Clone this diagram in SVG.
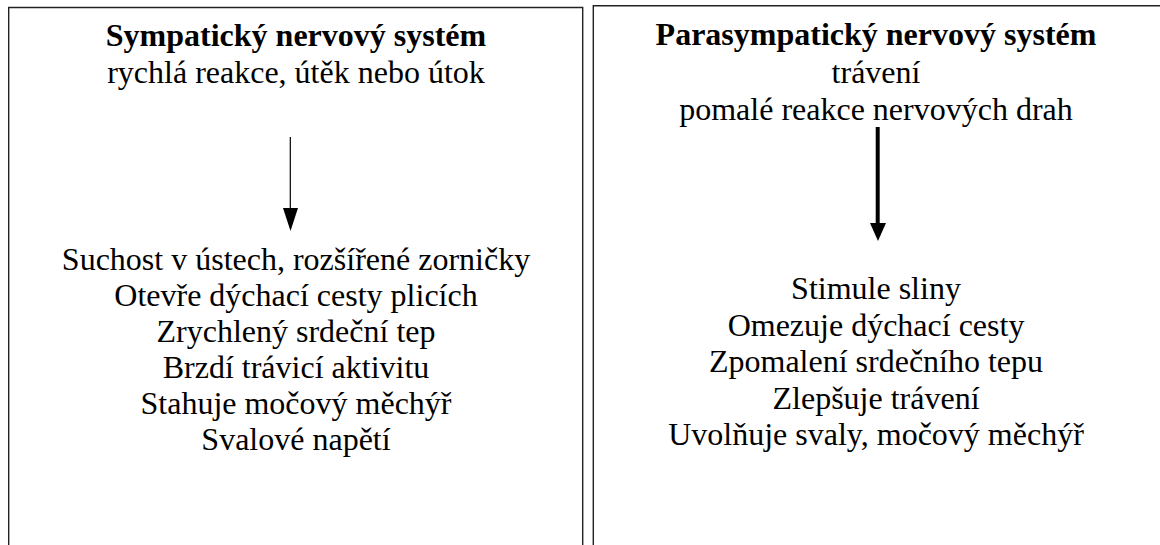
<svg xmlns="http://www.w3.org/2000/svg" width="1160" height="545" viewBox="0 0 1160 545">
<style>
.t{font-family:"Liberation Serif","Times New Roman",serif;font-size:32px;fill:#000;text-anchor:middle}
.b{font-weight:bold}
.box{fill:none;stroke:#222;stroke-width:1.4}
</style>
<rect width="1160" height="545" fill="#fff"/>
<g id="sympaticky">
<path class="box" d="M8.7 545V7.5H582.7V545"/>
<text class="t b" x="296" y="46">Sympatický nervový systém</text>
<text class="t" x="296" y="83">rychlá reakce, útěk nebo útok</text>
<text class="t" x="296" y="270">Suchost v ústech, rozšířené zorničky</text>
<text class="t" x="296" y="306">Otevře dýchací cesty plicích</text>
<text class="t" x="296" y="342">Zrychlený srdeční tep</text>
<text class="t" x="296" y="378">Brzdí trávicí aktivitu</text>
<text class="t" x="296" y="414">Stahuje močový měchýř</text>
<text class="t" x="296" y="450">Svalové napětí</text>
</g>
<g id="parasympaticky">
<path class="box" d="M593.3 545V5.7H1160"/>
<text class="t b" x="876" y="45">Parasympatický nervový systém</text>
<text class="t" x="876" y="83">trávení</text>
<text class="t" x="876" y="120">pomalé reakce nervových drah</text>
<text class="t" x="876" y="299">Stimule sliny</text>
<text class="t" x="876" y="335.5">Omezuje dýchací cesty</text>
<text class="t" x="876" y="372">Zpomalení srdečního tepu</text>
<text class="t" x="876" y="408.5">Zlepšuje trávení</text>
<text class="t" x="876" y="445">Uvolňuje svaly, močový měchýř</text>
</g>
<g id="connectors">
<line x1="290.3" y1="137" x2="290.3" y2="210" stroke="#000" stroke-width="1.2"/>
<polygon points="283,208 298,208 290.5,231" fill="#000"/>
<line x1="877.7" y1="127" x2="877.7" y2="226" stroke="#000" stroke-width="4"/>
<polygon points="870,223 886,223 878,241" fill="#000"/>
</g>
</svg>
